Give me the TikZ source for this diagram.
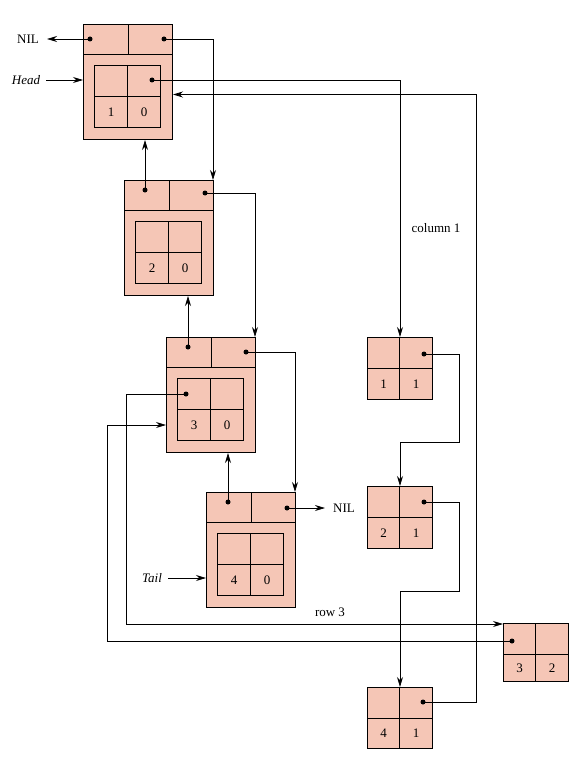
\documentclass[tikz,border=0pt]{standalone}
\usepackage{fontspec}
\setmainfont{Liberation Serif}
\usetikzlibrary{arrows.meta}
\definecolor{boxfill}{RGB}{245,198,182}

% header node: outer box, two pointer cells, inner 2x2 element
\newcommand{\hdrnode}[5]{%
  \node[outerbox, minimum width=89pt, minimum height=115pt] (#1) at (#2,#3) {};
  \node[cell, minimum width=45pt, minimum height=30pt] (#1L) at (#2,#3) {};
  \node[cell, minimum width=44pt, minimum height=30pt] (#1R) at (#2+45,#3) {};
  \node[cell, minimum width=33pt, minimum height=31pt] (#1A) at (#2+11,#3+41) {};
  \node[cell, minimum width=33pt, minimum height=31pt] (#1B) at (#2+44,#3+41) {};
  \node[cell, minimum width=33pt, minimum height=31pt] (#1C) at (#2+11,#3+72) {#4};
  \node[cell, minimum width=33pt, minimum height=31pt] (#1D) at (#2+44,#3+72) {#5};
}
% element node: 2x2 cells
\newcommand{\eltnode}[6]{%
  \node[anchor=north west, inner sep=0pt, minimum width=65pt, minimum height=#4pt] (#1) at (#2,#3) {};
  \node[cell, minimum width=32pt, minimum height=31pt] (#1A) at (#2,#3) {};
  \node[cell, minimum width=33pt, minimum height=31pt] (#1B) at (#2+32,#3) {};
  \node[cell, minimum width=32pt, minimum height=#4pt-31pt] (#1C) at (#2,#3+31) {#5};
  \node[cell, minimum width=33pt, minimum height=#4pt-31pt] (#1D) at (#2+32,#3+31) {#6};
}

\begin{document}
\begin{tikzpicture}[
    x=1pt, y=-1pt,
    font=\fontsize{13}{15}\selectfont,
    outerbox/.style={draw, fill=boxfill, line width=1pt, anchor=north west, inner sep=0pt},
    cell/.style={draw, fill=boxfill, line width=1pt, anchor=north west, inner sep=0pt},
    dot/.style={circle, fill, inner sep=0pt, minimum size=5pt},
    link/.style={line width=0.8pt, -{Stealth[length=10pt,width=6pt]}},
    lbl/.style={inner sep=2pt}
  ]
  \useasboundingbox (0,0) rectangle (587,773);

  % header list
  \hdrnode{n1}{83}{24}{1}{0}
  \hdrnode{n2}{124}{180}{2}{0}
  \hdrnode{n3}{166}{337}{3}{0}
  \hdrnode{n4}{206}{492}{4}{0}

  % nonzero elements
  \eltnode{e11}{367}{337}{62}{1}{1}
  \eltnode{e21}{367}{486}{62}{2}{1}
  \eltnode{e41}{367}{687}{61}{4}{1}
  \eltnode{e32}{503}{623}{58}{3}{2}

  % pointer dots
  \node[dot] (n1p) at (90,39) {};
  \node[dot] (n1q) at (164,39) {};
  \node[dot] (n1c) at (152,80) {};
  \node[dot] (n2p) at (145,190) {};
  \node[dot] (n2q) at (205,193) {};
  \node[dot] (n3p) at (188,347) {};
  \node[dot] (n3q) at (246,352) {};
  \node[dot] (n3c) at (186,394) {};
  \node[dot] (n4p) at (228,502) {};
  \node[dot] (n4q) at (287,508) {};
  \node[dot] (e11p) at (424,354) {};
  \node[dot] (e21p) at (424,502) {};
  \node[dot] (e41p) at (423,702) {};
  \node[dot] (e32p) at (512,641) {};

  % labels
  \node[lbl] (nilA) at (28,39) {NIL};
  \node[lbl] (head) at (26,80) {\textit{Head}};
  \node[lbl] (nilB) at (344,508) {NIL};
  \node[lbl] (tail) at (152,578) {\textit{Tail}};
  \node (col) at (436,228) {column 1};
  \node (row) at (330,612) {row 3};

  % header links
  \draw[link] (n1p.center) -- ([xshift=6pt]nilA.east);
  \draw[link] ([xshift=4pt]head.east) -- (n1.west |- head);
  \draw[link] (n1q.center) -| ([xshift=-1pt]n2.north east);
  \draw[link] (n2p.center) -- (n2p |- n1.south);
  \draw[link] (n2q.center) -| ([xshift=-1pt]n3.north east);
  \draw[link] (n3p.center) -- (n3p |- n2.south);
  \draw[link] (n3q.center) -| ([xshift=-1pt]n4.north east);
  \draw[link] (n4p.center) -- (n4p |- n3.south);
  \draw[link] (n4q.center) -- ([xshift=-6pt]nilB.west);
  \draw[link] ([xshift=4pt]tail.east) -- (n4.west |- tail);

  % column 1
  \draw[link] (n1c.center) -| (e11A.north east);
  \draw[link] (e11p.center) -- ++(35,0) -- ++(0,88) -| (e21A.north east);
  \draw[link] (e21p.center) -- ++(35,0) -- ++(0,89) -| (e41A.north east);
  \draw[link] (e41p.center) -- ++(53,0) |- ([yshift=-12.5pt]n1.east);

  % row 3
  \draw[link] (n3c.center) -- ++(-60,0) |- ([yshift=-1pt]e32.north west);
  \draw[link] (e32p.center) -- ++(-405,0) |- (n3.west |- n3C.west);
\end{tikzpicture}
\end{document}
